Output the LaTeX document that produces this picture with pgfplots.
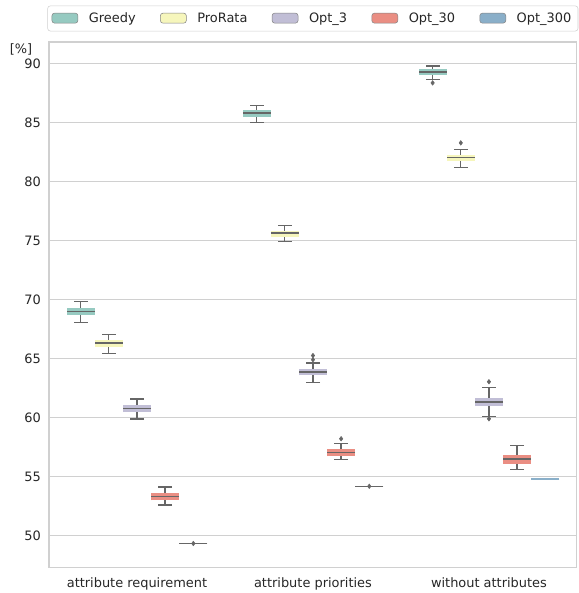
\documentclass[border=0pt]{standalone}
\usepackage{fontspec}
\setmainfont{DejaVu Sans}
\usepackage{pgfplots}
\pgfplotsset{compat=1.18}

\definecolor{cG}{HTML}{96CAC1}
\definecolor{cP}{HTML}{F6F6BC}
\definecolor{cT}{HTML}{C1BED6}
\definecolor{cS}{HTML}{EA8E83}
\definecolor{cH}{HTML}{8AAFC9}
\definecolor{lc}{HTML}{666666}
\definecolor{tc}{HTML}{262626}
\definecolor{gc}{HTML}{D0D0D0}

% one box: position, colour, lower whisker, q1, median, q3, upper whisker
\newcommand\bxp[7]{%
  \addplot[forget plot, lc, line width=1pt, mark=-, mark size=5.28pt] coordinates {(#1,#3) (#1,#7)};
  \addplot[forget plot, #2, line width=21.1pt] coordinates {(#1,#4) (#1,#6)};
  \addplot[forget plot, lc, line width=1.1pt, only marks, mark=-, mark size=10.56pt] coordinates {(#1,#5)};
}

\begin{document}
\begin{tikzpicture}
\begin{axis}[
  scale only axis, width=396pt, height=394.3pt,
  xmin=-0.5, xmax=2.5, ymin=47.27, ymax=91.83,
  xtick={0,1,2},
  xticklabels={attribute requirement, attribute priorities, without attributes},
  ytick={50,55,...,90},
  major tick length=0,
  ymajorgrids, grid style={gc, line width=0.8pt},
  axis line style={gc, line width=0.8pt},
  ticklabel style={font=\fontsize{9.7}{11}\selectfont, text=tc},
  /pgf/number format/assume math mode=true,
  xticklabel style={inner sep=0pt, anchor=north, yshift=-7pt},
  yticklabel style={xshift=-2.5pt},
  ylabel={[\%]},
  every axis y label/.style={at={(rel axis cs:0,1)}, anchor=north east,
    xshift=-9pt, yshift=2pt, font=\fontsize{9.7}{11}\selectfont, text=tc},
  legend columns=5,
  legend style={at={(rel axis cs:1,1)}, anchor=south east, yshift=8pt, xshift=1pt,
    draw=gc, rounded corners=2pt, text=tc, inner ysep=3pt,
    font=\fontsize{9.7}{11}\selectfont,
    /tikz/every odd column/.append style={column sep=6pt},
    /tikz/every even column/.append style={column sep=16.3pt}},
  legend image code/.code={\draw[#1] (0pt,-3.5pt) rectangle (19.5pt,4pt);},
]
\addlegendimage{fill=cG, draw=lc!80, line width=0.4pt}
\addlegendentry{Greedy}
\addlegendimage{fill=cP, draw=lc!80, line width=0.4pt}
\addlegendentry{ProRata}
\addlegendimage{fill=cT, draw=lc!80, line width=0.4pt}
\addlegendentry{Opt\_3}
\addlegendimage{fill=cS, draw=lc!80, line width=0.4pt}
\addlegendentry{Opt\_30}
\addlegendimage{fill=cH, draw=lc!80, line width=0.4pt}
\addlegendentry{Opt\_300}

% attribute requirement
\bxp{-0.32}{cG}{68.05}{68.73}{68.98}{69.24}{69.83}
\bxp{-0.16}{cP}{65.45}{66.00}{66.30}{66.57}{67.03}
\bxp{0}{cT}{59.86}{60.45}{60.76}{61.10}{61.58}
\bxp{0.16}{cS}{52.57}{52.97}{53.30}{53.62}{54.10}
\addplot[forget plot, lc, line width=1.1pt, only marks, mark=-, mark size=10.56pt] coordinates {(0.32,49.32)};

% attribute priorities
\bxp{0.68}{cG}{85.03}{85.51}{85.82}{86.08}{86.47}
\bxp{0.84}{cP}{74.94}{75.34}{75.62}{75.85}{76.27}
\bxp{1}{cT}{62.99}{63.58}{63.84}{64.07}{64.63}
\bxp{1.16}{cS}{56.44}{56.72}{57.03}{57.34}{57.82}
\addplot[forget plot, lc, line width=1.1pt, only marks, mark=-, mark size=10.56pt] coordinates {(1.32,54.17)};

% without attributes
\bxp{1.68}{cG}{88.67}{89.07}{89.30}{89.55}{89.80}
\bxp{1.84}{cP}{81.21}{81.75}{82.03}{82.26}{82.69}
\bxp{2}{cT}{60.08}{60.96}{61.33}{61.69}{62.52}
\bxp{2.16}{cS}{55.59}{56.08}{56.47}{56.80}{57.63}
\addplot[forget plot, cH, line width=1.3pt, only marks, mark=-, mark size=10.56pt] coordinates {(2.32,54.77)};

% outliers
\addplot[forget plot, only marks, mark=diamond*, mark size=1.7pt, lc] coordinates {
  (0.32,49.32) (1,65.25) (1,64.90) (1.16,58.20) (1.32,54.17)
  (1.68,88.36) (1.84,83.28) (2,63.03) (2,59.89)};
\end{axis}
\path ([xshift=-36.75pt,yshift=-19pt]current axis.south west)
  rectangle ([xshift=0.75pt,yshift=31.5pt]current axis.north east);
\end{tikzpicture}
\end{document}
